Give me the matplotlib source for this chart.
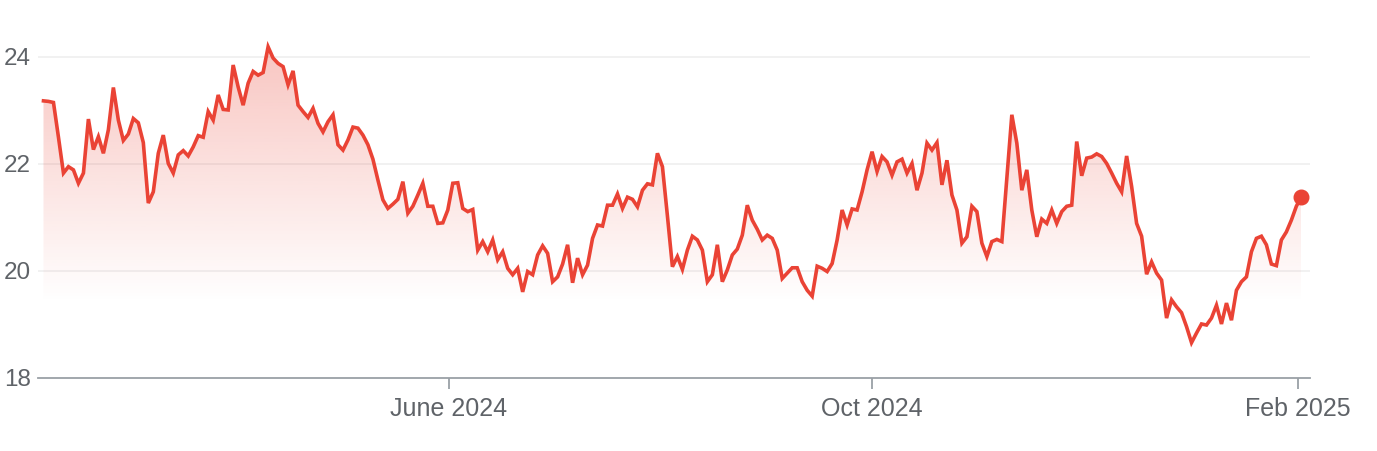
import matplotlib
matplotlib.use('Agg')
import matplotlib.pyplot as plt
import matplotlib.dates as mdates
import numpy as np
import pandas as pd
from matplotlib.patches import Polygon

# ---------------- data ----------------
START_DATE = '2024-02-05'
END_DATE = '2025-02-02'

prices = [
    23.18, 23.17, 23.15, 22.50, 21.83, 21.95, 21.89, 21.64, 21.83, 22.84,
    22.27, 22.51, 22.20, 22.64, 23.43, 22.82, 22.44, 22.56, 22.85, 22.77,
    22.40, 21.27, 21.48, 22.20, 22.54, 22.01, 21.83, 22.17, 22.25, 22.15,
    22.32, 22.53, 22.50, 22.98, 22.82, 23.29, 23.02, 23.01, 23.85, 23.44,
    23.10, 23.51, 23.73, 23.66, 23.71, 24.19, 23.98, 23.88, 23.82, 23.48,
    23.74, 23.10, 22.98, 22.87, 23.04, 22.76, 22.60, 22.79, 22.92, 22.36,
    22.26, 22.45, 22.69, 22.67, 22.54, 22.36, 22.09, 21.70, 21.33, 21.17,
    21.25, 21.34, 21.67, 21.08, 21.21, 21.42, 21.64, 21.21, 21.21, 20.89,
    20.90, 21.14, 21.64, 21.65, 21.17, 21.11, 21.15, 20.39, 20.55, 20.36,
    20.58, 20.21, 20.36, 20.05, 19.93, 20.05, 19.61, 19.99, 19.93, 20.30,
    20.47, 20.33, 19.80, 19.89, 20.13, 20.49, 19.78, 20.24, 19.93, 20.11,
    20.61, 20.86, 20.84, 21.23, 21.23, 21.44, 21.17, 21.38, 21.34, 21.20,
    21.51, 21.63, 21.61, 22.20, 21.95, 21.03, 20.08, 20.27, 20.03, 20.39,
    20.65, 20.58, 20.39, 19.80, 19.93, 20.49, 19.80, 20.02, 20.30, 20.41,
    20.67, 21.23, 20.95, 20.78, 20.58, 20.67, 20.61, 20.39, 19.86, 19.96,
    20.06, 20.06, 19.80, 19.64, 19.53, 20.09, 20.05, 19.99, 20.14, 20.58,
    21.14, 20.86, 21.16, 21.14, 21.48, 21.89, 22.23, 21.86, 22.14, 22.04,
    21.79, 22.04, 22.09, 21.83, 22.01, 21.51, 21.83, 22.39, 22.26, 22.40,
    21.61, 22.07, 21.42, 21.14, 20.52, 20.64, 21.21, 21.11, 20.52, 20.27,
    20.55, 20.59, 20.55, 21.74, 22.92, 22.39, 21.51, 21.89, 21.14, 20.64,
    20.97, 20.89, 21.14, 20.89, 21.11, 21.21, 21.23, 22.42, 21.78, 22.11,
    22.13, 22.19, 22.14, 22.01, 21.83, 21.64, 21.48, 22.15, 21.58, 20.89,
    20.65, 19.94, 20.17, 19.96, 19.83, 19.12, 19.46, 19.33, 19.22, 18.96,
    18.66, 18.84, 19.01, 18.99, 19.12, 19.36, 19.01, 19.40, 19.08, 19.64,
    19.80, 19.89, 20.36, 20.61, 20.65, 20.49, 20.13, 20.10, 20.58, 20.73,
    20.95, 21.21, 21.39,
]

y_ticks = [18, 20, 22, 24]
y_tick_labels = ['18', '20', '22', '24']
x_tick_dates = ['2024-06-01', '2024-10-01', '2025-02-01']
x_tick_labels = ['June 2024', 'Oct 2024', 'Feb 2025']

X_MIN = '2024-02-03 10:00'
X_MAX = '2025-02-04 12:00'
Y_MIN, Y_MAX = 18, 24.4

# ---------------- style ----------------
LINE_COLOR = '#ea4335'
TEXT_COLOR = '#5f6368'
GRID_COLOR = '#efefef'
AXIS_COLOR = '#9aa0a6'

plt.rcParams['font.family'] = ['Liberation Sans', 'DejaVu Sans']

W, H = 1377, 451
fig = plt.figure(figsize=(W / 100, H / 100), dpi=100)
ax = fig.add_axes([38 / W, 73 / H, (1310 - 38) / W, (378 - 35.6) / H])

dates = pd.date_range(START_DATE, END_DATE, periods=len(prices))
xn = mdates.date2num(dates)
yv = np.array(prices)

ax.set_xlim(mdates.date2num(pd.Timestamp(X_MIN)), mdates.date2num(pd.Timestamp(X_MAX)))
ax.set_ylim(Y_MIN, Y_MAX)

# gradient fill under line
grad_lo, grad_hi = 19.4, Y_MAX
n = 256
alphas = np.linspace(0.0, 0.32, n)
rgba = np.zeros((n, 1, 4))
rgba[:, 0, 0] = 234 / 255
rgba[:, 0, 1] = 67 / 255
rgba[:, 0, 2] = 53 / 255
rgba[:, 0, 3] = alphas
im = ax.imshow(rgba, extent=[xn[0], xn[-1], grad_lo, grad_hi], origin='lower',
               aspect='auto', zorder=1, interpolation='bilinear')
verts = np.vstack([[xn[0], Y_MIN], np.column_stack([xn, yv]), [xn[-1], Y_MIN]])
poly = Polygon(verts, closed=True, facecolor='none', edgecolor='none')
ax.add_patch(poly)
im.set_clip_path(poly)

# grid
for yt in y_ticks[1:]:
    ax.axhline(yt, color=GRID_COLOR, lw=1.2, zorder=0)

# line and end dot
ax.plot(xn, yv, color=LINE_COLOR, lw=2.6, zorder=3, solid_joinstyle='miter')
ax.plot([xn[-1]], [yv[-1]], 'o', color=LINE_COLOR, markersize=10.5, zorder=4)

# spines
for s in ['top', 'right', 'left']:
    ax.spines[s].set_visible(False)
ax.spines['bottom'].set_color(AXIS_COLOR)
ax.spines['bottom'].set_linewidth(1.3)

ax.set_yticks(y_ticks)
ax.set_yticklabels(y_tick_labels)
ax.tick_params(axis='y', length=0, pad=5, labelsize=17.5, labelcolor=TEXT_COLOR)

ax.set_xticks(mdates.date2num(pd.to_datetime(x_tick_dates)))
ax.set_xticklabels(x_tick_labels)
ax.tick_params(axis='x', length=8, width=1.3, color=AXIS_COLOR, pad=6,
               labelsize=18, labelcolor=TEXT_COLOR)

ax.patch.set_alpha(0)
fig.savefig('out.png', dpi=100)
